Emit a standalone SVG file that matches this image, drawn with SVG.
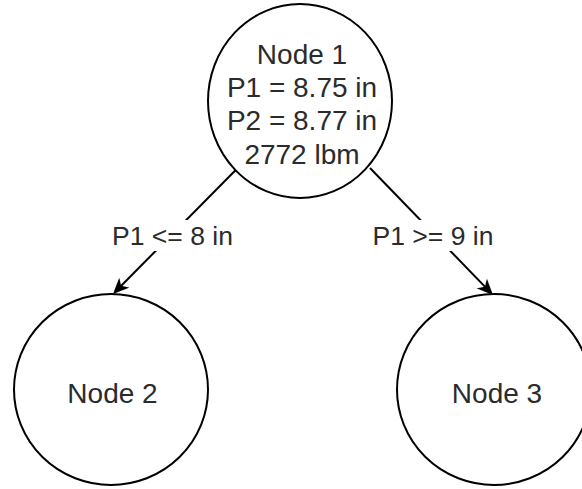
<svg xmlns="http://www.w3.org/2000/svg" width="582" height="489" viewBox="0 0 582 489">
  <style>
    .node { fill: #ffffff; stroke: #000000; stroke-width: 2; }
    .txt { font-family: "Liberation Sans", Arial, sans-serif; font-size: 28px; fill: #2b2b2b; text-anchor: middle; }
    .lbl { font-size: 26.5px; }
    .edge { stroke: #000000; stroke-width: 2; fill: none; }
    .lblbg { fill: #ffffff; stroke: none; }
  </style>
  <defs>
    <marker id="arrow" viewBox="0 0 16 14" refX="12" refY="7" markerWidth="16" markerHeight="14" markerUnits="userSpaceOnUse" orient="auto">
      <path d="M0,0 L16,7 L0,14 L4.5,7 Z" fill="#000000"/>
    </marker>
  </defs>
  <rect x="0" y="0" width="582" height="489" fill="#ffffff"/>
  <g id="connectors">
    <g id="edge-1-2">
      <line class="edge" x1="235.5" y1="170.3" x2="115.8" y2="291.2" marker-end="url(#arrow)"/>
      <rect class="lblbg" x="110" y="220" width="126" height="31"/>
      <text class="txt lbl" x="172.5" y="245">P1 &lt;= 8 in</text>
    </g>
    <g id="edge-1-3">
      <line class="edge" x1="370" y1="168" x2="490.2" y2="292.1" marker-end="url(#arrow)"/>
      <rect class="lblbg" x="370" y="220" width="126" height="31"/>
      <text class="txt lbl" x="433" y="245">P1 &gt;= 9 in</text>
    </g>
  </g>
  <g id="node1">
    <ellipse class="node" cx="300" cy="101" rx="92" ry="97"/>
    <text class="txt" x="302" y="64">Node 1</text>
    <text class="txt" x="302" y="97">P1 = 8.75 in</text>
    <text class="txt" x="302" y="130">P2 = 8.77 in</text>
    <text class="txt" x="302" y="164">2772 lbm</text>
  </g>
  <g id="node2">
    <ellipse class="node" cx="111" cy="389.5" rx="97" ry="95.5"/>
    <text class="txt" x="112.5" y="403">Node 2</text>
  </g>
  <g id="node3">
    <ellipse class="node" cx="494" cy="389.5" rx="97" ry="95.5"/>
    <text class="txt" x="497" y="403">Node 3</text>
  </g>
</svg>
